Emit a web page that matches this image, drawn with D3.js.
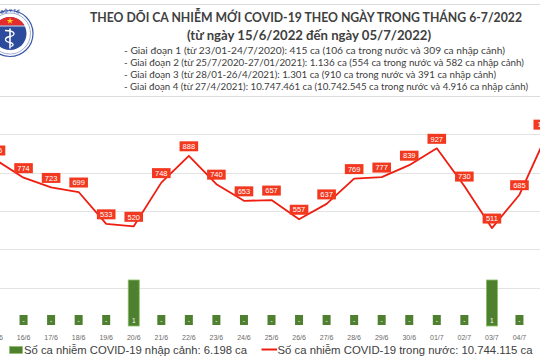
<!DOCTYPE html>
<html><head><meta charset="utf-8">
<script src="https://cdn.jsdelivr.net/npm/d3@7"></script>
<style>html,body{margin:0;padding:0;background:#fff;overflow:hidden}</style>
</head><body><svg id="c" width="540" height="360"></svg>
<script>
const categories = ["15/6","16/6","17/6","18/6","19/6","20/6","21/6","22/6","23/6","24/6","25/6","26/6","27/6","28/6","29/6","30/6","01/7","02/7","03/7","04/7","05/7"];
const domesticCases = [866,774,723,699,533,520,748,888,740,653,657,557,637,769,777,839,927,730,511,685,1001];
const importedCases = [0,0,0,0,0,1,0,0,0,0,0,0,0,0,0,0,0,0,1,0,0];
const gridValues = [200,400,600,800,1000,1200];
const titleText = "THEO DÕI CA NHIỄM MỚI COVID-19 THEO NGÀY TRONG THÁNG 6-7/2022";
const subtitleText = "(từ ngày 15/6/2022 đến ngày 05/7/2022)";
const phaseNotes = [
 "- Giai đoạn 1 (từ 23/01-24/7/2020): 415 ca (106 ca trong nước và 309 ca nhập cảnh)",
 "- Giai đoạn 2 (từ 25/7/2020-27/01/2021): 1.136 ca (554 ca trong nước và 582 ca nhập cảnh)",
 "- Giai đoạn 3 (từ 28/01-26/4/2021): 1.301 ca (910 ca trong nước và 391 ca nhập cảnh)",
 "- Giai đoạn 4 (từ 27/4/2021): 10.747.461 ca (10.742.545 ca trong nước và 4.916 ca nhập cảnh)"
];
const legendLabels = ["Số ca nhiễm COVID-19 nhập cảnh: 6.198 ca","Số ca nhiễm COVID-19 trong nước: 10.744.115 ca"];

const svg = d3.select("#c");
const RED = "#ee1d10", LABEL_RED = "#f2391f", GREEN = "#4e8030", GREEN_EDGE = "#86c060", TXT = "#404040";
const vn = d3.formatLocale({decimal:",", thousands:".", grouping:[3], currency:["",""]});
const fmt = vn.format(",");

const x = d3.scalePoint().domain(categories).range([-4, 547]);
const yLine = d3.scaleLinear().domain([0,1200]).range([326, 96]);
const yBar = d3.scaleLinear().domain([0,5]).range([326, 96]);

// gridlines
svg.append("g").selectAll("line").data(gridValues).join("line")
  .attr("x1",0).attr("x2",540)
  .attr("y1",d=>Math.round(yLine(d))+0.5).attr("y2",d=>Math.round(yLine(d))+0.5)
  .attr("stroke","#e3e3e3").attr("stroke-width",1);

// bars
const bw = 11;
svg.append("g").selectAll("rect").data(categories).join("rect")
  .attr("x",(d,i)=>x(d)-bw/2).attr("width",bw)
  .attr("y",(d,i)=>yBar(importedCases[i])).attr("height",(d,i)=>yBar(0)-yBar(importedCases[i]))
  .attr("fill",GREEN).attr("stroke",GREEN_EDGE).attr("stroke-width",0.8);
// bar labels (only those inside the visible frame)
const bl = svg.append("g");
categories.forEach((c,i)=>{
  const v = importedCases[i];
  const cx = x(c);
  if (cx - 4 < 0 || cx + 4 > 540) return;
  if (v===0) {
    bl.append("rect").attr("x",cx-4).attr("y",315).attr("width",8).attr("height",10).attr("fill",GREEN);
  }
  bl.append("text").attr("x",cx).attr("y",322.5).attr("text-anchor","middle")
    .attr("font-family","Liberation Sans, Arial, sans-serif").attr("font-size",6.5).attr("fill","#fff")
    .text(v===0?"-":fmt(v));
});

// x labels
svg.append("g").selectAll("text").data(categories).join("text")
  .attr("x",d=>x(d)).attr("y",339.5).attr("text-anchor","middle")
  .attr("font-family","Liberation Sans, Arial, sans-serif").attr("font-size",7).attr("fill","#6a6a6a")
  .text(d=>d);

// line
const line = d3.line().x((d,i)=>x(categories[i])).y(d=>yLine(d));
svg.append("path").datum(domesticCases).attr("d",line).attr("fill","none")
  .attr("stroke",RED).attr("stroke-width",1.8).attr("stroke-linejoin","round");

// line labels
const ll = svg.append("g");
domesticCases.forEach((v,i)=>{
  const cx = x(categories[i]), cy = yLine(v) - 9.5;
  const t = fmt(v);
  const w = t.length*4.2 + 6;
  ll.append("rect").attr("x",cx-w/2).attr("y",cy-5).attr("width",w).attr("height",10).attr("fill",LABEL_RED);
  ll.append("text").attr("x",cx).attr("y",cy+2.7).attr("text-anchor","middle")
    .attr("font-family","Liberation Sans, Arial, sans-serif").attr("font-size",7.5).attr("fill","#fff").text(t);
});

// header
svg.append("rect").attr("x",0).attr("y",4).attr("width",540).attr("height",93).attr("fill","#fff");
svg.append("line").attr("x1",0).attr("x2",540).attr("y1",4.5).attr("y2",4.5).attr("stroke","#dcdcdc");
svg.append("line").attr("x1",0).attr("x2",540).attr("y1",96.5).attr("y2",96.5).attr("stroke","#dcdcdc");

svg.append("text").attr("x",90).attr("y",22).attr("font-family","Lato, sans-serif").attr("font-weight","bold")
  .attr("font-size",13.5).attr("fill",TXT).attr("textLength",432).attr("lengthAdjust","spacingAndGlyphs").text(titleText);
svg.append("text").attr("x",187).attr("y",39.5).attr("font-family","Lato, sans-serif").attr("font-weight","bold")
  .attr("font-size",12.5).attr("fill",TXT).attr("textLength",244).attr("lengthAdjust","spacingAndGlyphs").text(subtitleText);
const noteW = [381,400,372,404];
const noteY = [53.5,65.5,77.5,89.5];
phaseNotes.forEach((s,i)=>{
  svg.append("text").attr("x",124).attr("y",noteY[i]).attr("font-family","Lato, sans-serif")
    .attr("font-size",9.5).attr("fill",TXT).attr("textLength",noteW[i]).attr("lengthAdjust","spacingAndGlyphs").text(s);
});

// logo
const lg = svg.append("g").attr("transform","translate(10,33.5)");
lg.append("circle").attr("r",23).attr("fill","#fff").attr("stroke","#3a57a8").attr("stroke-width",1.2);
lg.append("circle").attr("r",20.5).attr("fill","none").attr("stroke","#3a57a8").attr("stroke-width",0.5);
lg.append("defs").append("clipPath").attr("id","inner").append("circle").attr("r",16.5);
lg.append("circle").attr("r",16.5).attr("fill","#2d4b9c");
lg.append("rect").attr("x",-17).attr("y",-17).attr("width",34).attr("height",9).attr("fill","#e42c2c").attr("clip-path","url(#inner)");
lg.append("path").attr("d",d3.symbol(d3.symbolStar, 14)()).attr("transform","translate(0,-12.5)").attr("fill","#ffd21f");
lg.append("line").attr("x1",-17).attr("x2",17).attr("y1",-7.5).attr("y2",-7.5).attr("stroke","#fff").attr("stroke-width",0.8);
lg.append("line").attr("x1",0).attr("x2",0).attr("y1",-5).attr("y2",15).attr("stroke","#fff").attr("stroke-width",1.6);
lg.append("path").attr("d","M-5,-3 C6,-3 6,2 0,3 C-6,4 -6,8 0,9 C4,10 4,12 1,13").attr("fill","none").attr("stroke","#fff").attr("stroke-width",1.3);
const defs = svg.append("defs");
defs.append("path").attr("id","arcTop").attr("d",`M${10-21.5},33.5 A21.5,21.5 0 0 1 ${10+21.5},33.5`);
defs.append("path").attr("id","arcBot").attr("d",`M${10-20},33.5 A20,20 0 0 0 ${10+20},33.5`);
svg.append("text").attr("font-family","Liberation Sans, Arial").attr("font-size",4.5).attr("font-weight","bold").attr("fill","#2d4b9c")
  .append("textPath").attr("href","#arcTop").attr("startOffset","50%").attr("text-anchor","middle").text("BỘ Y TẾ");
svg.append("text").attr("font-family","Liberation Sans, Arial").attr("font-size",2.8).attr("fill","#fff")
  .append("textPath").attr("href","#arcBot").attr("startOffset","50%").attr("text-anchor","middle").text("MINISTRY OF HEALTH");

// legend
const lf = "Liberation Sans, Arial, sans-serif";
svg.append("rect").attr("x",9.5).attr("y",346.5).attr("width",13).attr("height",7).attr("fill",GREEN).attr("stroke",GREEN_EDGE).attr("stroke-width",0.6);
svg.append("text").attr("x",24).attr("y",354.2).attr("font-family",lf).attr("font-size",11.3).attr("fill","#404040")
  .attr("textLength",223).attr("lengthAdjust","spacingAndGlyphs").text(legendLabels[0]);
svg.append("line").attr("x1",261.5).attr("x2",277).attr("y1",349.5).attr("y2",349.5).attr("stroke",RED).attr("stroke-width",2);
svg.append("text").attr("x",277.5).attr("y",354.2).attr("font-family",lf).attr("font-size",11.3).attr("fill","#404040")
  .attr("textLength",255).attr("lengthAdjust","spacingAndGlyphs").text(legendLabels[1]);
</script></body></html>
